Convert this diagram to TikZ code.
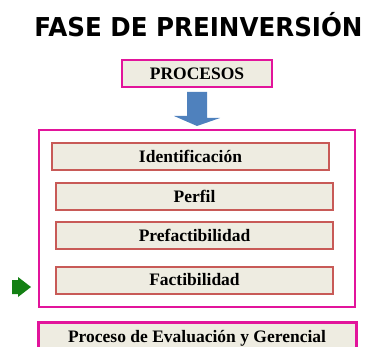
\documentclass[tikz,border=0pt]{standalone}
\usepackage{fontspec}
\setmainfont{Liberation Serif}
\newfontfamily\titulofont{DejaVu Sans}
\usetikzlibrary{calc}
\definecolor{rosa}{RGB}{226,20,155}
\definecolor{rojizo}{RGB}{200,90,87}
\definecolor{fondo}{RGB}{238,236,225}
\definecolor{azul}{RGB}{79,129,189}
\definecolor{verde}{RGB}{20,128,20}

\begin{document}
\begin{tikzpicture}[x=1pt,y=-1pt,
    caja/.style={draw=rosa,line width=2pt,fill=fondo,inner sep=0pt,
      text height=11.5pt,text depth=0pt,font=\bfseries\fontsize{17.5}{20}\selectfont},
    etapa/.style={caja,draw=rojizo,minimum width=277pt,minimum height=27pt}]
      \useasboundingbox (0,0) rectangle (369,347);

      \node[anchor=base,inner sep=0pt] (titulo) at (198.5,37)
        {\scalebox{0.945}[1]{\titulofont\bfseries\fontsize{26}{30}\selectfont FASE DE PREINVERSIÓN}};

      \node[caja,minimum width=150pt,minimum height=27pt] (procesos) at (197,73.5) {PROCESOS};

      \node[draw=rosa,line width=2pt,fill=white,minimum width=316pt,minimum height=177pt] (marco) at (197,218.5) {};

      \node[etapa] (identificacion) at (190.5,157) {Identificación};
      \node[etapa] (perfil) at (194.5,196.5) {Perfil};
      \node[etapa] (prefactibilidad) at (194.5,235.5) {Prefactibilidad};
      \node[etapa] (factibilidad) at (194.5,280) {Factibilidad};

      \node[caja,line width=3pt,minimum width=318pt,minimum height=34pt,text depth=5pt] (evaluacion) at (197,339)
        {Proceso de Evaluación y Gerencial};

      % flecha de procesos al marco
      \fill[azul] ($(procesos.south)+(-10,4)$) -- ++(20,0) -- ++(0,26) -- ++(13,0)
        -- ($(marco.north)+(0,-3)$) -- ++(-23,-10) -- ++(13,0) -- cycle;

      % marcador verde
      \fill[verde] (12,280) -- (18,280) -- (18,277) -- (31,287) -- (18,297) -- (18,294) -- (12,294) -- cycle;
    \end{tikzpicture}
\end{document}
